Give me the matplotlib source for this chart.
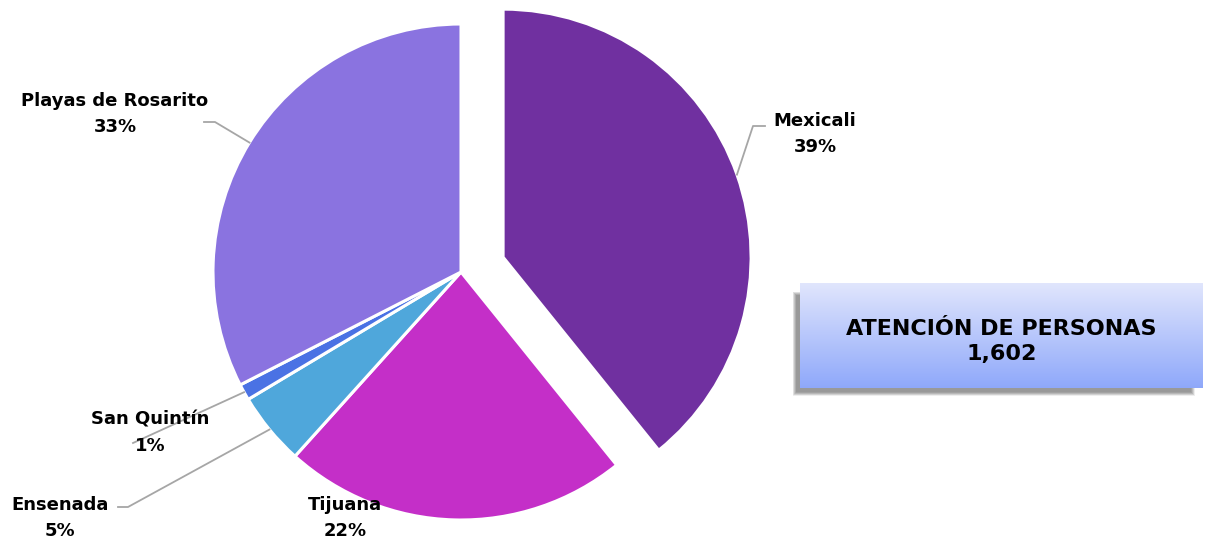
import numpy as np
import matplotlib.pyplot as plt
from matplotlib.patches import Rectangle

# datos: atencion de personas por municipio
municipios = ['Mexicali', 'Tijuana', 'Ensenada', 'San Quintín', 'Playas de Rosarito']
personas = [628, 360, 76, 17, 521]
colores = ['#7030A0', '#C42FC8', '#4FA7DB', '#4A72E4', '#8A73E0']
titulo = 'ATENCIÓN DE PERSONAS'

total = sum(personas)
W, H = 1212, 544
R = 248.0          # radio en pixeles
CX, CY = 461, 272  # centro del pastel en pixeles


def px(x, y):
    # pixeles (origen arriba-izquierda) -> coordenadas de datos
    return (x - CX) / R, (CY - y) / R


plt.rcParams['font.family'] = ['DejaVu Sans']
fig = plt.figure(figsize=(W / 100, H / 100), dpi=100)
ax = fig.add_axes([0, 0, 1, 1])

explode = [0.18, 0, 0, 0, 0]
wedges, _ = ax.pie(personas, colors=colores, startangle=90, counterclock=False,
                   explode=explode, radius=1,
                   wedgeprops=dict(edgecolor='white', linewidth=2.2))
ax.set_xlim(-CX / R, (W - CX) / R)
ax.set_ylim(-(H - CY) / R, CY / R)
ax.set_aspect('auto')
ax.axis('off')

# etiquetas: posicion del texto y codo de la linea guia (pixeles)
etq = {
    'Mexicali': ((815, 134), [(753, 126), (765, 126)]),
    'Tijuana': ((345, 518), None),
    'Ensenada': ((60, 518), [(128, 507), (118, 507)]),
    'San Quintín': ((150, 433), [(133, 443)]),
    'Playas de Rosarito': ((115, 114), [(215, 122), (204, 122)]),
}

for w, nom, val in zip(wedges, municipios, personas):
    pct = round(100 * val / total)
    (tx, ty), codo = etq[nom]
    if codo is not None:
        ang = np.deg2rad((w.theta1 + w.theta2) / 2)
        cx, cy = w.center
        x0, y0 = cx + np.cos(ang), cy + np.sin(ang)
        pts = [(x0, y0)] + [px(*p) for p in codo]
        xs, ys = zip(*pts)
        ax.plot(xs, ys, color='#A6A6A6', lw=1.3, zorder=1)
    x, y = px(tx, ty)
    ax.text(x, y, f'{nom}\n{pct}%', ha='center', va='center', fontsize=13,
            fontweight='bold', color='black', linespacing=1.6, zorder=3)

# recuadro con total
bx0, by0, bx1, by1 = 800, 283, 1203, 388
for i in range(8, 0, -1):
    ax.add_patch(Rectangle(((bx0 - 8 + i * 0.5 - CX) / R, (CY - by1 - 8 + i * 0.5) / R),
                           (bx1 - bx0 - i) / R, (by1 - by0 - i) / R,
                           color='#303030', alpha=0.08, lw=0, zorder=4))
bax = fig.add_axes([bx0 / W, (H - by1) / H, (bx1 - bx0) / W, (by1 - by0) / H])
bax.set_zorder(10)
top = np.array([0.88, 0.90, 0.99])
bot = np.array([0.56, 0.66, 0.98])
grad = np.linspace(0, 1, 100)[:, None, None] * (bot - top) + top
bax.imshow(np.repeat(grad, 2, axis=1), aspect='auto', extent=[0, 1, 0, 1], origin='upper')
bax.axis('off')
bax.text(0.5, 0.44, f'{titulo}\n{total:,}', ha='center', va='center', fontsize=16,
         fontweight='bold', linespacing=1.3, transform=bax.transAxes)

fig.savefig('out.png', dpi=100)
